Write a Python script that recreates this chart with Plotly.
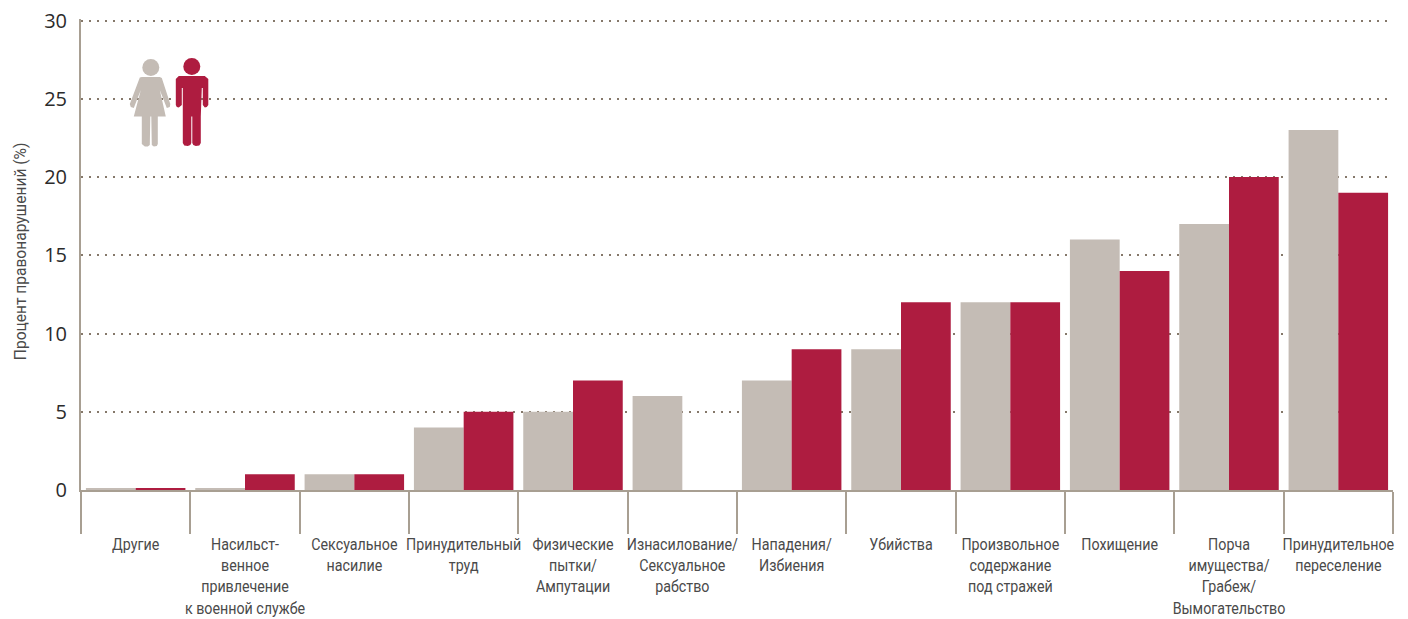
import plotly.graph_objects as go

categories = ["Другие", "Насильст-<br>венное<br>привлечение<br>к военной службе", "Сексуальное<br>насилие",
              "Принудительный<br>труд", "Физические<br>пытки/<br>Ампутации", "Изнасилование/<br>Сексуальное<br>рабство",
              "Нападения/<br>Избиения", "Убийства", "Произвольное<br>содержание<br>под стражей", "Похищение",
              "Порча<br>имущества/<br>Грабеж/<br>Вымогательство", "Принудительное<br>переселение"]
women = [0.12, 0.12, 1, 4, 5, 6, 7, 9, 12, 16, 17, 23]
men = [0.12, 1, 1, 5, 7, 0, 9, 12, 12, 14, 20, 19]
y_ticks = [0, 5, 10, 15, 20, 25, 30]

GREY = "#c4bcb5"
RED = "#ae1c40"
AXIS = "#a89f92"
TEXT = "#4a4a4a"
LABEL_FONT = "Roboto, sans-serif"
W, H = 1408, 619
L, R, T, B = 81.2, 1393.2, 19, 490
Y_TOP = (B - T) / 15.65


def px(x):
    return (x - L) / (R - L)


def py(y):
    return (B - y) / (B - T)


def path(points):
    return "M" + " L".join(f"{px(a):.5f},{py(b):.5f}" for a, b in points) + " Z"


woman_body = [(140, 77.5), (142, 77), (160, 77), (162, 78), (170.5, 104), (170, 107), (167, 108), (160, 90),
              (166, 116.5), (158, 116.5), (158, 144), (157, 146), (154, 146.5), (152, 145), (151.5, 116.5),
              (150.5, 116.5), (150, 145), (148, 146.5), (145, 146.5), (142, 144), (142, 116.5), (134, 116.5),
              (141, 90), (134, 108), (131, 107), (130, 104)]
man_body = [(179, 76), (205, 76), (208.5, 79), (208.5, 105), (207, 107), (205, 107.5), (203, 105), (203, 88),
            (202, 88), (201, 116.5), (201, 143), (199.5, 145.5), (196, 146), (193.5, 145), (192.5, 143),
            (192.5, 116.5), (191.5, 116.5), (191.5, 143), (190.5, 145), (188, 146), (184.5, 145.5), (183, 143),
            (183, 88), (182, 88), (182, 105), (179, 107.5), (177, 107), (176, 105), (176, 79)]

shapes = [
    dict(type="path", xref="paper", yref="paper", path=path(woman_body), fillcolor=GREY, line_width=0),
    dict(type="circle", xref="paper", yref="paper", x0=px(142.5), x1=px(159.5), y0=py(76), y1=py(59), fillcolor=GREY, line_width=0),
    dict(type="path", xref="paper", yref="paper", path=path(man_body), fillcolor=RED, line_width=0),
    dict(type="circle", xref="paper", yref="paper", x0=px(183.5), x1=px(200.5), y0=py(75), y1=py(58), fillcolor=RED, line_width=0),
]

fig = go.Figure()
fig.add_bar(x=categories, y=women, name="Женщины", marker=dict(color=GREY, line_width=0))
fig.add_bar(x=categories, y=men, name="Мужчины", marker=dict(color=RED, line_width=0))
fig.update_layout(
    width=W, height=H, barmode="group", bargap=0.09, bargroupgap=0, showlegend=False,
    margin=dict(l=L, r=W - R, t=T, b=H - B, pad=0, autoexpand=False),
    paper_bgcolor="white", plot_bgcolor="white", shapes=shapes,
    font=dict(family=LABEL_FONT, color=TEXT),
    annotations=[dict(text="Процент правонарушений (%)", textangle=-90, xref="paper", yref="paper",
                      x=px(20.5), y=py(251), showarrow=False, xanchor="center", yanchor="middle",
                      font=dict(size=17, color=TEXT, family=LABEL_FONT))],
)
fig.update_xaxes(
    type="category", tickson="boundaries", ticks="outside", ticklen=42, tickwidth=1.5, tickcolor=AXIS,
    showline=True, linecolor=AXIS, linewidth=1.5, showgrid=False, tickangle=0, automargin=False,
    ticklabelstandoff=38,
    tickfont=dict(size=16.5, color=TEXT, family=LABEL_FONT),
)
fig.update_yaxes(
    range=[0, Y_TOP], tickvals=y_ticks, ticks="", showline=True, linecolor=AXIS, linewidth=2, automargin=False,
    zeroline=False, showgrid=True, gridcolor="#85786a", griddash="1.5px,6.5px", gridwidth=1.5,
    tickfont=dict(size=20, color="#2b2b2b", family="Open Sans, sans-serif"), ticklabelstandoff=8,
)

# No condensed face is installed: narrow the label text horizontally to the reference's proportions.
post = """
document.body.style.margin='0';document.body.style.overflow='hidden';
function squeeze(sel,k){document.querySelectorAll(sel).forEach(function(t){
  var b=t.getBBox(),c=b.x+b.width/2,o=t.getAttribute('transform')||'';
  t.setAttribute('transform',o+' translate('+c+' 0) scale('+k+' 1) translate('+(-c)+' 0)');});}
squeeze('.xtick text',0.865);
squeeze('.annotation-text',0.915);
"""
fig.write_html("out.html", config=dict(displayModeBar=False), post_script=post)
